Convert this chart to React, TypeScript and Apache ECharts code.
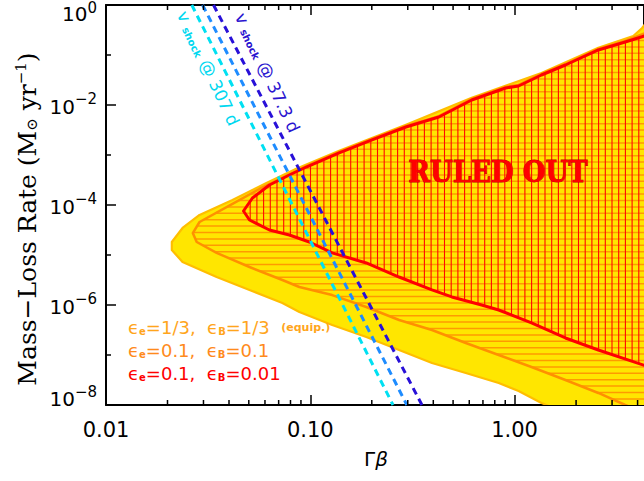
import React, { useEffect, useRef } from "react";
import * as echarts from "echarts";

// ---------- axes ----------
const xRange = [0.01, 4.3];
const yRange = [1e-8, 1];
const xMajorTicks = [0.01, 0.1, 1];
const xTickLabels = ["0.01", "0.10", "1.00"];
const xMinorTicks = [0.02, 0.03, 0.04, 0.05, 0.06, 0.07, 0.08, 0.09, 0.2, 0.3, 0.4, 0.5, 0.6, 0.7, 0.8, 0.9, 2, 3, 4];
const yTickExponents = [-8, -6, -4, -2, 0];
const yTickLabels = ["−8", "−6", "−4", "−2", "0"];

// ---------- contours [Γβ, Mdot] ----------
// ε_e = 1/3, ε_B = 1/3 (equipartition)
const equipUpper = [
  [0.021, 1.82e-5], [0.0237, 3.47e-5], [0.0287, 6.31e-5], [0.0416, 1.26e-4], [0.061, 2.75e-4],
  [0.0854, 5.3e-4], [0.1385, 1.21e-3], [0.294, 4.0e-3], [0.617, 1.39e-2], [1.354, 4.38e-2],
  [2.57, 0.139], [3.81, 0.24], [4.21, 0.347], [4.6, 0.55],
];
const equipLower = [
  [0.021, 1.26e-5], [0.0237, 7.24e-6], [0.0348, 3.63e-6], [0.0504, 2.0e-6], [0.073, 1.1e-6],
  [0.0884, 7.24e-7], [0.128, 3.98e-7], [0.188, 2.29e-7], [0.272, 1.26e-7], [0.394, 6.92e-8],
  [0.577, 4.37e-8], [0.836, 2.75e-8], [1.046, 1.91e-8], [1.354, 1.1e-8], [1.64, 7.94e-9], [6, 1e-9],
];
// ε_e = 0.1, ε_B = 0.1
const midUpper = [
  [0.0266, 2.75e-5], [0.0287, 4.57e-5], [0.0416, 1.05e-4], [0.0564, 2.09e-4], [0.073, 3.5e-4],
  [0.0956, 6.0e-4], [0.1385, 1.15e-3], [0.2006, 2.1e-3], [0.294, 3.8e-3], [0.426, 6.0e-3],
  [0.617, 1.32e-2], [0.904, 2.3e-2], [1.046, 2.52e-2], [1.354, 4.18e-2], [1.774, 6.6e-2],
  [2.57, 0.132], [3.48, 0.191], [4.6, 0.3],
];
const midLower = [
  [0.0278, 1.82e-5], [0.0348, 1.1e-5], [0.0504, 5.75e-6], [0.073, 3.16e-6], [0.0884, 2.29e-6],
  [0.128, 1.58e-6], [0.188, 9.12e-7], [0.272, 5.01e-7], [0.394, 3.16e-7], [0.577, 1.74e-7],
  [0.836, 1.0e-7], [1.21, 5.75e-8], [1.774, 3.16e-8], [2.57, 1.74e-8], [3.48, 1.0e-8], [5.04, 5.5e-9],
];
// ε_e = 0.1, ε_B = 0.01
const lowUpper = [
  [0.0471, 7.59e-5], [0.0521, 1.38e-4], [0.0631, 2.51e-4], [0.079, 3.98e-4], [0.0956, 5.75e-4],
  [0.1385, 1.1e-3], [0.2006, 2.0e-3], [0.294, 3.63e-3], [0.426, 5.75e-3], [0.617, 1.26e-2],
  [0.904, 2.19e-2], [1.046, 2.4e-2], [1.354, 3.98e-2], [1.774, 6.31e-2], [2.57, 0.126],
  [3.48, 0.182], [4.6, 0.26],
];
const lowLower = [
  [0.0504, 5.01e-5], [0.0631, 3.16e-5], [0.079, 2.51e-5], [0.0989, 1.82e-5], [0.128, 1.1e-5],
  [0.188, 6.92e-6], [0.272, 3.63e-6], [0.394, 2.0e-6], [0.493, 1.45e-6], [0.69, 1.0e-6],
  [0.836, 7.94e-7], [1.21, 4.37e-7], [1.774, 2.19e-7], [2.57, 1.26e-7], [4.6, 5.7e-8],
];

// ---------- shock-velocity lines ----------
const vShock307 = [[0.0263, 1], [0.254, 1e-8]];
const vShockMid = [[0.0297, 1], [0.297, 1e-8]];
const vShock37 = [[0.0336, 1], [0.352, 1e-8]];

const legendEntries = [
  { e: "1/3", b: "1/3", note: "(equip.)", color: "#FFA51C" },
  { e: "0.1", b: "0.1", note: "", color: "#FF8A1C" },
  { e: "0.1", b: "0.01", note: "", color: "#FF0000" },
];

const L = (v: number) => Math.log10(v);

function scanSegments(poly: number[][], v: number, axis: number): number[][] {
  const other = 1 - axis;
  const hits: number[] = [];
  const n = poly.length;
  for (let i = 0; i < n; i++) {
    const a = poly[i];
    const b = poly[(i + 1) % n];
    if ((a[axis] <= v && b[axis] > v) || (b[axis] <= v && a[axis] > v)) {
      const t = (v - a[axis]) / (b[axis] - a[axis]);
      hits.push(a[other] + t * (b[other] - a[other]));
    }
  }
  hits.sort((p, q) => p - q);
  const segs: number[][] = [];
  for (let i = 0; i + 1 < hits.length; i += 2) segs.push([hits[i], hits[i + 1]]);
  return segs;
}

type Hatch = { dir: "h" | "v"; color: string; width: number; step: number };
type RegionStyle = { fill?: string; stroke: string; lineWidth: number; hatch?: Hatch };

function regionSeries(name: string, upper: number[][], lower: number[][], st: RegionStyle, z: number) {
  const data = upper.concat(lower.slice().reverse()).map((p) => [L(p[0]), L(p[1])]);
  return {
    type: "custom",
    name,
    z,
    clip: true,
    silent: true,
    data,
    renderItem: (params: any, api: any) => {
      if (params.dataIndex !== 0) return null;
      const pts = data.map((d) => api.coord(d));
      const cs = params.coordSys;
      const children: any[] = [];
      if (st.fill) {
        children.push({ type: "polygon", shape: { points: pts }, style: { fill: st.fill, stroke: "none" } });
      }
      if (st.hatch) {
        const h = st.hatch;
        if (h.dir === "h") {
          for (let y = cs.y + 3.5; y < cs.y + cs.height; y += h.step) {
            for (const s of scanSegments(pts, y, 1)) {
              children.push({ type: "line", shape: { x1: s[0], y1: y, x2: s[1], y2: y }, style: { stroke: h.color, lineWidth: h.width } });
            }
          }
        } else {
          for (let x = cs.x + 3.5; x < cs.x + cs.width; x += h.step) {
            for (const s of scanSegments(pts, x, 0)) {
              children.push({ type: "line", shape: { x1: x, y1: s[0], x2: x, y2: s[1] }, style: { stroke: h.color, lineWidth: h.width } });
            }
          }
        }
      }
      children.push({
        type: "polygon",
        shape: { points: pts },
        style: { fill: "none", stroke: st.stroke, lineWidth: st.lineWidth, lineJoin: "round" },
      });
      return { type: "group", children };
    },
  };
}

function dashSeries(name: string, pts: number[][], color: string) {
  return {
    type: "line",
    name,
    z: 10,
    silent: true,
    symbol: "none",
    data: pts.map((p) => [L(p[0]), L(p[1])]),
    lineStyle: { color, width: 3, type: [7, 5] },
  };
}

const FONT = "DejaVu Sans";

function xLabel(v: number) {
  for (let i = 0; i < xMajorTicks.length; i++) {
    if (Math.abs(L(xMajorTicks[i]) - v) < 1e-6) return xTickLabels[i];
  }
  return "";
}

function yLabel(v: number) {
  for (let i = 0; i < yTickExponents.length; i++) {
    if (Math.abs(yTickExponents[i] - v) < 1e-6) {
      const k = i === yTickExponents.length - 1 ? "t" : i === 0 ? "b" : "m";
      return `{b${k}|10}{s${k}|${yTickLabels[i]}}`;
    }
  }
  return "";
}

const yRich = {
  bt: { fontSize: 20, fontFamily: FONT, color: "#000", padding: [17, 0, 0, 0] },
  st: { fontSize: 15, fontFamily: FONT, color: "#000", padding: [5, 0, 0, 0] },
  bm: { fontSize: 20, fontFamily: FONT, color: "#000", padding: [3, 0, 0, 0] },
  sm: { fontSize: 15, fontFamily: FONT, color: "#000", padding: [0, 0, 12, 0] },
  bb: { fontSize: 20, fontFamily: FONT, color: "#000", padding: [0, 0, 12, 0] },
  sb: { fontSize: 15, fontFamily: FONT, color: "#000", padding: [0, 0, 26, 0] },
};

function buildOption() {
  const xMin = L(xRange[0]);
  const xMax = L(xRange[1]);
  const yMin = L(yRange[0]);
  const yMax = L(yRange[1]);
  const axisLine = { show: true, onZero: false, lineStyle: { color: "#000", width: 2 } };
  const tick = { show: true, inside: true, length: 10, lineStyle: { color: "#000", width: 1.5 } };
  const xBase = { type: "value", min: xMin, max: xMax, interval: 1, axisLine, axisTick: tick, splitLine: { show: false } };
  const yBase = {
    type: "value", min: yMin, max: yMax, interval: 2, axisLine, axisTick: tick, splitLine: { show: false },
    minorTick: { show: true, splitNumber: 2, length: 5, lineStyle: { color: "#000", width: 1.5 } },
    minorSplitLine: { show: false },
  };

  const legendTexts = legendEntries.map((en, i) => ({
    type: "text",
    x: 128,
    y: 327 + i * 23,
    z: 100,
    style: {
      text: `{t|ϵ}{s|e}{t|=${en.e},  ϵ}{s|B}{t|=${en.b}}` + (en.note ? `{t|  }{q|${en.note}}` : ""),
      align: "left",
      verticalAlign: "middle",
      rich: {
        t: { fontSize: 18, fontFamily: FONT, fill: en.color },
        s: { fontSize: 10, fontFamily: FONT, fontWeight: "bold", fill: en.color, padding: [8, 0, 0, 0] },
        q: { fontSize: 11, fontFamily: FONT, fontWeight: "bold", fill: en.color },
      },
    },
  }));

  const shockLabel = (txt: string, x: number, y: number, color: string) => ({
    type: "text",
    x,
    y,
    rotation: (-65 * Math.PI) / 180,
    z: 100,
    style: {
      text: `{v|v }{s|shock}{v| @ ${txt}}`,
      align: "left",
      verticalAlign: "middle",
      rich: {
        v: { fontSize: 17, fontFamily: FONT, fill: color },
        s: { fontSize: 10, fontFamily: FONT, fontWeight: "bold", fill: color, padding: [8, 0, 0, 0] },
      },
    },
  });

  return {
    animation: false,
    backgroundColor: "#fff",
    textStyle: { fontFamily: FONT },
    grid: { left: 106, top: 5, width: 540, height: 400, containLabel: false },
    xAxis: [
      {
        ...xBase,
        position: "bottom",
        axisLabel: { show: true, formatter: xLabel, fontSize: 21, fontFamily: FONT, color: "#000", margin: 14, showMaxLabel: false },
      },
      { ...xBase, position: "top", axisLabel: { show: false } },
    ],
    yAxis: [
      {
        ...yBase,
        position: "left",
        axisLabel: { show: true, formatter: yLabel, margin: 9, rich: yRich },
      },
      { ...yBase, position: "right", axisLabel: { show: false } },
    ],
    series: [
      regionSeries("ε_e=1/3, ε_B=1/3", equipUpper, equipLower, { fill: "#FFE600", stroke: "#FFBE00", lineWidth: 2.2 }, 1),
      regionSeries("ε_e=0.1, ε_B=0.1", midUpper, midLower, {
        stroke: "#FF9000", lineWidth: 2.5, hatch: { dir: "h", color: "#FF9A00", width: 1.5, step: 6.4 },
      }, 2),
      regionSeries("ε_e=0.1, ε_B=0.01", lowUpper, lowLower, {
        stroke: "#FF0000", lineWidth: 3, hatch: { dir: "v", color: "#FF0A00", width: 1.1, step: 6.7 },
      }, 3),
      dashSeries("v_shock @ 307 d", vShock307, "#00E0F2"),
      dashSeries("v_shock mid", vShockMid, "#1E8CFF"),
      dashSeries("v_shock @ 37.3 d", vShock37, "#2810D8"),
      {
        type: "custom",
        name: "minor ticks",
        z: 20,
        silent: true,
        clip: false,
        data: xMinorTicks.map((v) => [L(v), yMin]),
        renderItem: (params: any, api: any) => {
          const cs = params.coordSys;
          const x = api.coord([api.value(0), yMin])[0];
          const b = cs.y + cs.height;
          const t = cs.y;
          const st = { stroke: "#000", lineWidth: 1.5 };
          return {
            type: "group",
            children: [
              { type: "line", shape: { x1: x, y1: b, x2: x, y2: b - 5 }, style: st },
              { type: "line", shape: { x1: x, y1: t, x2: x, y2: t + 5 }, style: st },
            ],
          };
        },
      },
    ],
    graphic: [
      {
        type: "text",
        x: 27,
        y: 219,
        rotation: Math.PI / 2,
        z: 100,
        style: {
          text: "{t|Mass−Loss Rate (M}{sub|⊙}{t| yr}{sup|−1}{t|)}",
          align: "center",
          verticalAlign: "middle",
          rich: {
            t: { fontSize: 25, fontFamily: "DejaVu Serif", fill: "#000" },
            sub: { fontSize: 15, fontFamily: "DejaVu Serif", fill: "#000", padding: [10, 0, 0, 0] },
            sup: { fontSize: 15, fontFamily: "DejaVu Serif", fill: "#000", padding: [0, 0, 12, 0] },
          },
        },
      },
      {
        type: "text",
        x: 376,
        y: 459,
        z: 100,
        style: {
          text: "{g|Γ}{b|β}",
          align: "center",
          verticalAlign: "middle",
          rich: {
            g: { fontSize: 20, fontFamily: FONT, fill: "#000" },
            b: { fontSize: 20, fontFamily: FONT, fontStyle: "italic", fill: "#000" },
          },
        },
      },
      {
        type: "text",
        x: 498,
        y: 172,
        z: 100,
        style: {
          text: "RULED OUT",
          align: "center",
          verticalAlign: "middle",
          fontSize: 29,
          fontWeight: "bold",
          fontFamily: "DejaVu Serif Condensed, DejaVu Serif",
          fill: "#FF0000",
          stroke: "#C00000",
          lineWidth: 0.8,
        },
      },
      shockLabel("307 d", 182, 12, "#00D8F0"),
      shockLabel("37.3 d", 240, 14, "#2A14D0"),
      ...legendTexts,
    ],
  };
}

export default function App() {
  const ref = useRef<HTMLDivElement>(null);
  useEffect(() => {
    if (!ref.current) return;
    const chart = echarts.init(ref.current, null, { renderer: "svg" });
    chart.setOption(buildOption() as any);
    return () => chart.dispose();
  }, []);
  return <div ref={ref} style={{ position: "fixed", left: 0, top: 0, width: 644, height: 481 }} />;
}
